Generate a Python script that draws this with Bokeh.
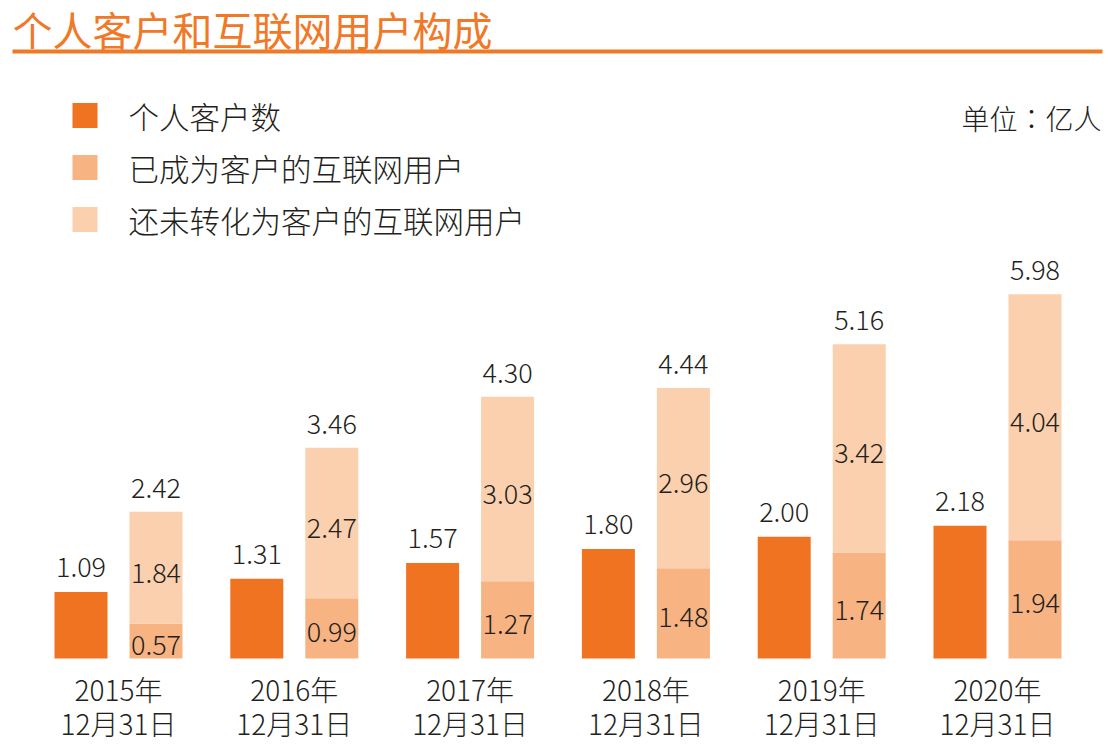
from bokeh.plotting import figure
from bokeh.models import Range1d, ColumnDataSource
from bokeh.core.properties import value
from bokeh.embed import file_html
from bokeh.resources import INLINE

# ---- data (亿人) ----
years = ["2015年", "2016年", "2017年", "2018年", "2019年", "2020年"]
dates = ["12月31日"] * 6
customers = [1.09, 1.31, 1.57, 1.80, 2.00, 2.18]
converted = [0.57, 0.99, 1.27, 1.48, 1.74, 1.94]
unconverted = [1.84, 2.47, 3.03, 2.96, 3.42, 4.04]
internet_total = [2.42, 3.46, 4.30, 4.44, 5.16, 5.98]
series_names = ["个人客户数", "已成为客户的互联网用户", "还未转化为客户的互联网用户"]
title_text = "个人客户和互联网用户构成"
unit_text = "单位：亿人"

# ---- style ----
C_DARK = "#F07322"
C_MID = "#F7B381"
C_LIGHT = "#FBD0AE"
C_TITLE = "#F07826"
C_TEXT = "#231F20"
FONT = value("'Noto Sans CJK SC Light', 'Noto Sans CJK SC DemiLight', 'Noto Sans CJK SC'")
FONT_TC = value("'Noto Sans CJK TC Light', 'Noto Sans CJK TC DemiLight', 'Noto Sans CJK TC'")
FONT_TITLE = value("'Noto Sans CJK SC'")

W, H = 1106, 745
PX_X = 175.8   # px per group
PX_Y = 60.9    # px per 亿
x0 = -118 / PX_X
x1 = x0 + W / PX_X
y0 = -(H - 658) / PX_Y
y1 = y0 + H / PX_Y


def X(px):
    return x0 + px / PX_X


def Y(py):
    return y0 + (H - py) / PX_Y


p = figure(width=W, height=H, x_range=Range1d(x0, x1), y_range=Range1d(y0, y1),
           output_backend="svg", toolbar_location=None, min_border=0,
           x_axis_location=None, y_axis_location=None)
p.grid.visible = False
p.outline_line_color = None
p.background_fill_color = "white"
p.border_fill_color = "white"

n = len(years)
idx = list(range(n))
off = 37.5 / PX_X
bw = 53 / PX_X
xd = [i - off for i in idx]
xl = [i + off for i in idx]

src = ColumnDataSource(dict(
    xd=xd, xl=xl, cust=customers, conv=converted, unconv=unconverted,
    tot=[c + u for c, u in zip(converted, unconverted)],
    lab_tot=["%.2f" % v for v in internet_total],
    lab_cust=["%.2f" % v for v in customers],
    lab_conv=["%.2f" % v for v in converted],
    lab_unconv=["%.2f" % v for v in unconverted],
    cust_y=[v + 25 / PX_Y for v in customers],
    tot_y=[c + u + 24 / PX_Y for c, u in zip(converted, unconverted)],
    conv_y=[v / 2 - 4 / PX_Y for v in converted],
    unconv_y=[c + u / 2 - 5 / PX_Y for c, u in zip(converted, unconverted)],
    zero=[0] * n,
    gx=idx, yr=years, dt=dates,
))

p.vbar(x="xd", bottom="zero", top="cust", width=bw, source=src,
       fill_color=C_DARK, line_color=None)
p.vbar(x="xl", bottom="zero", top="conv", width=bw, source=src,
       fill_color=C_MID, line_color=None)
p.vbar(x="xl", bottom="conv", top="tot", width=bw, source=src,
       fill_color=C_LIGHT, line_color=None)

common = dict(text_font=FONT, text_color=C_TEXT, text_align="center",
              text_baseline="middle", source=src)
p.text(x="xd", y="cust_y", text="lab_cust", text_font_size=value("27px"), **common)
p.text(x="xl", y="tot_y", text="lab_tot", text_font_size=value("27px"), **common)
p.text(x="xl", y="conv_y", text="lab_conv", text_font_size=value("27px"), **common)
p.text(x="xl", y="unconv_y", text="lab_unconv", text_font_size=value("27px"), **common)

# category labels
p.text(x="gx", y=Y(688), text="yr", text_font_size=value("28px"), **common)
p.text(x="gx", y=Y(722), text="dt", text_font_size=value("28px"), **common)

# title and rule
p.text(x=[X(12)], y=[Y(28)], text=[title_text], text_font=FONT_TITLE,
       text_font_size=value("40px"), text_color=C_TITLE,
       text_align="left", text_baseline="middle")
p.segment(x0=[X(12)], y0=[Y(51)], x1=[X(1102)], y1=[Y(51)],
          line_color=C_TITLE, line_width=4)

# legend
leg_y = [115, 167, 219]
leg_cols = [C_DARK, C_MID, C_LIGHT]
p.scatter(x=[X(84.5)] * 3, y=[Y(v) for v in leg_y], marker="square", size=25,
          fill_color=leg_cols, line_color=None)
p.text(x=[X(128)] * 3, y=[Y(v) for v in leg_y], text=series_names,
       text_font=FONT, text_font_size=value("30.5px"), text_color=C_TEXT,
       text_align="left", text_baseline="middle")

# unit
p.text(x=[X(1101)], y=[Y(117)], text=[unit_text], text_font=FONT_TC,
       text_font_size=value("28px"), text_color=C_TEXT,
       text_align="right", text_baseline="middle")

open("out.html", "w").write(file_html(p, INLINE))
